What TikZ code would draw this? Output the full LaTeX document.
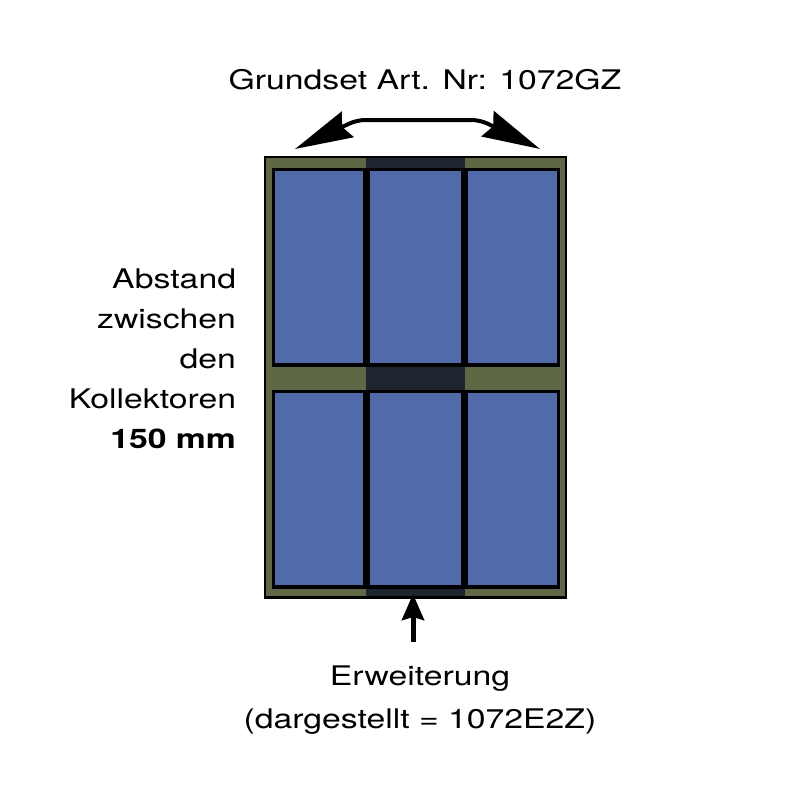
\documentclass[tikz,border=0pt]{standalone}
\usepackage{fontspec}
\setmainfont{TeX Gyre Heros}[FakeStretch=1.25]
\usetikzlibrary{arrows.meta}
\definecolor{panelblue}{HTML}{506AAA}
\definecolor{frameolive}{HTML}{5E6844}
\definecolor{stripdark}{HTML}{1E252E}
\begin{document}
\begin{tikzpicture}[x=1pt,y=-1pt,
  every node/.style={inner sep=0pt, outer sep=0pt},
  txt/.style={font=\fontsize{27}{40}\selectfont},
  panel/.style={draw=black, line width=3.5pt, fill=panelblue},
  toparrow/.style={line width=4pt, rounded corners=8pt,
    {Stealth[length=58pt,width=28pt,inset=6pt]}-{Stealth[length=58pt,width=28pt,inset=6pt]}},
  uparrow/.style={line width=5pt, -{Stealth[length=26pt,width=22pt,inset=3pt]}}]
\useasboundingbox (0,0) rectangle (800,800);
% frame
\draw[line width=2.5pt, fill=frameolive] (265,157) rectangle (566,597.5);
\fill[stripdark] (366,158.3) rectangle (464.5,596.2);
% panels top row
\draw[panel] (273.5,169.5) rectangle (364.8,365);
\draw[panel] (368.2,169.5) rectangle (463,365);
\draw[panel] (466.5,169.5) rectangle (558.5,365);
% panels bottom row
\draw[panel] (273.5,391.5) rectangle (364.8,587);
\draw[panel] (368.2,391.5) rectangle (463,587);
\draw[panel] (466.5,391.5) rectangle (558.5,587);
% texts
\node[txt, anchor=base] (grund) at (425,89) {Grundset Art. Nr: 1072GZ};
\node[txt, align=right, anchor=north east] (abst) at (236,268.4)
  {Abstand\\zwischen\\den\\Kollektoren\\\textbf{150 mm}};
\node[txt, font=\fontsize{27}{43}\selectfont, align=center, anchor=north] (erw) at (420,665.6)
  {Erweiterung\\(dargestellt = 1072E2Z)};
% arrows
\coordinate (tl) at (295,149);
\coordinate (bl) at (357,120);
\coordinate (br) at (480,120);
\coordinate (tr) at (540,149);
\draw[toparrow] (tl) -- (bl) -- (br) -- (tr);
\coordinate (bstart) at (413,642);
\coordinate (btip) at (413,594);
\draw[uparrow] (bstart) -- (btip);
\end{tikzpicture}
\end{document}
